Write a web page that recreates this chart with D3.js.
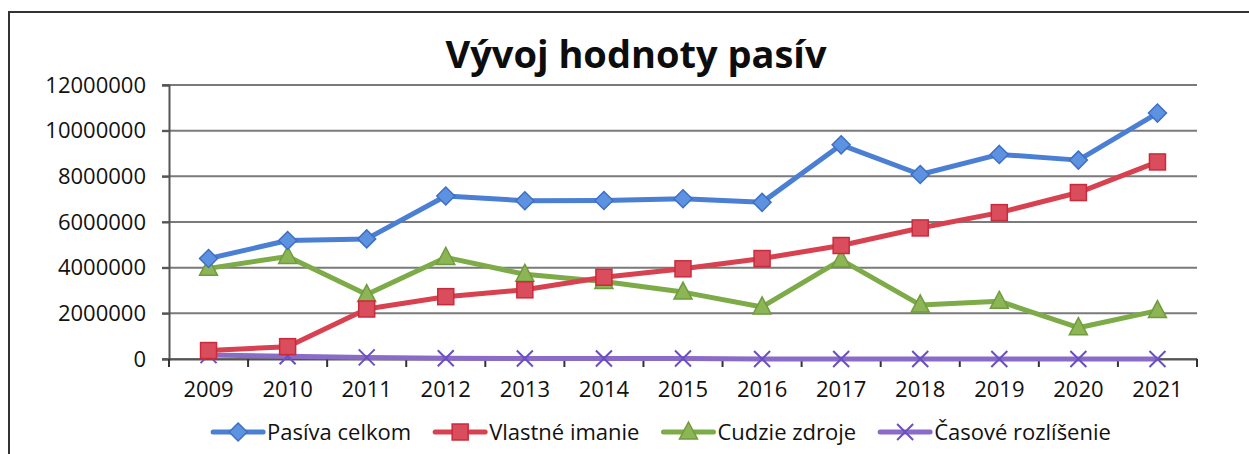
<!DOCTYPE html>
<html>
<head>
<meta charset="utf-8">
<script src="https://cdn.jsdelivr.net/npm/d3@7"></script>
<style>
    body { margin: 0; background: #fff; }
    svg { display: block; font-family: 'Open Sans', sans-serif; }
</style>
</head>
<body>
<svg id="chart" width="1249" height="454"></svg>
<script>
var years = ['2009', '2010', '2011', '2012', '2013', '2014', '2015', '2016', '2017', '2018', '2019', '2020', '2021'];
var yTicks = [0, 2000000, 4000000, 6000000, 8000000, 10000000, 12000000];

var pasivaCelkom = [4400000, 5190000, 5260000, 7140000, 6930000, 6940000, 7020000, 6860000, 9380000, 8080000, 8960000, 8710000, 10770000];
var vlastneImanie = [370000, 540000, 2190000, 2730000, 3030000, 3580000, 3950000, 4400000, 4970000, 5740000, 6410000, 7290000, 8630000];
var cudzieZdroje = [3970000, 4490000, 2820000, 4450000, 3710000, 3390000, 2930000, 2280000, 4340000, 2370000, 2530000, 1370000, 2120000];
var casoveRozlisenie = [170000, 120000, 70000, 30000, 20000, 20000, 20000, 0, 0, 0, 0, 0, 0];

var series = [
    {name: 'Pasíva celkom', values: pasivaCelkom, line: '#4a7fd4', fill: '#5c92e0', stroke: '#3f6fc4', marker: 'diamond'},
    {name: 'Vlastné imanie', values: vlastneImanie, line: '#d8414f', fill: '#d94d5c', stroke: '#c92b3c', marker: 'square'},
    {name: 'Cudzie zdroje', values: cudzieZdroje, line: '#7dab48', fill: '#8db556', stroke: '#6f9c3c', marker: 'triangle'},
    {name: 'Časové rozlíšenie', values: casoveRozlisenie, line: '#8a6cc8', fill: 'none', stroke: '#6a4fc0', marker: 'cross'}
];

var svg = d3.select('#chart');
var margin = {left: 169, right: 52, top: 85, bottom: 95};
var dim = {w: 1249 - margin.left - margin.right, h: 454 - margin.top - margin.bottom};

//outer frame (top and left edges show in the picture)
svg.append('path')
    .attr('d', 'M9,454 V12 H1249')
    .attr('fill', 'none')
    .attr('stroke', '#333')
    .attr('stroke-width', 2);

//title
svg.append('text')
    .attr('x', 636)
    .attr('y', 68)
    .attr('text-anchor', 'middle')
    .style('font-size', '38px')
    .style('font-weight', 'bold')
    .style('fill', '#0d0d0d')
    .text('Vývoj hodnoty pasív');

var g = svg.append('g').attr('transform', 'translate(' + margin.left + ',' + margin.top + ')');

var x = d3.scaleBand().domain(years).range([0, dim.w]);
var y = d3.scaleLinear().domain([0, 12000000]).range([dim.h, 0]);

//gridlines
g.selectAll('.grid')
    .data(yTicks)
    .enter().append('line')
    .attr('x1', -7)
    .attr('x2', dim.w)
    .attr('y1', function (d) { return y(d); })
    .attr('y2', function (d) { return y(d); })
    .attr('stroke', '#7a7a7a')
    .attr('stroke-width', 2);

//y axis
var yAxis = g.append('g')
    .call(d3.axisLeft(y).tickValues(yTicks).tickSize(7).tickPadding(16).tickFormat(d3.format('d')));
yAxis.select('.domain').attr('stroke', '#555').attr('stroke-width', 2);
yAxis.selectAll('.tick line').attr('stroke', '#555').attr('stroke-width', 2);
yAxis.selectAll('text').style('font-size', '22px').style('fill', '#111').style('font-family', "'Open Sans', sans-serif");

//x axis with ticks between categories
var xAxis = g.append('g')
    .attr('transform', 'translate(0,' + dim.h + ')')
    .call(d3.axisBottom(x).tickSize(0).tickPadding(22));
xAxis.select('.domain').attr('stroke', '#555').attr('stroke-width', 2);
xAxis.selectAll('text').style('font-size', '22px').style('fill', '#111').style('font-family', "'Open Sans', sans-serif");
g.selectAll('.xtick')
    .data(d3.range(years.length + 1))
    .enter().append('line')
    .attr('x1', function (i) { return i * x.bandwidth(); })
    .attr('x2', function (i) { return i * x.bandwidth(); })
    .attr('y1', dim.h)
    .attr('y2', dim.h + 8)
    .attr('stroke', '#333')
    .attr('stroke-width', 2);

function cx(i) { return x(years[i]) + x.bandwidth() / 2; }

function drawMarker(sel, s, px, py) {
    if (s.marker === 'diamond') {
        sel.append('path')
            .attr('d', 'M' + px + ',' + (py - 9) + ' L' + (px + 9) + ',' + py + ' L' + px + ',' + (py + 9) + ' L' + (px - 9) + ',' + py + 'Z')
            .attr('fill', s.fill).attr('stroke', s.stroke).attr('stroke-width', 1.5);
    } else if (s.marker === 'square') {
        sel.append('rect')
            .attr('x', px - 8).attr('y', py - 8).attr('width', 16).attr('height', 16)
            .attr('fill', s.fill).attr('stroke', s.stroke).attr('stroke-width', 1.5);
    } else if (s.marker === 'triangle') {
        sel.append('path')
            .attr('d', 'M' + px + ',' + (py - 10) + ' L' + (px + 9) + ',' + (py + 7) + ' L' + (px - 9) + ',' + (py + 7) + 'Z')
            .attr('fill', s.fill).attr('stroke', s.stroke).attr('stroke-width', 1.5);
    } else {
        sel.append('path')
            .attr('d', 'M' + (px - 8) + ',' + (py - 8) + ' L' + (px + 8) + ',' + (py + 8) + ' M' + (px + 8) + ',' + (py - 8) + ' L' + (px - 8) + ',' + (py + 8))
            .attr('fill', 'none').attr('stroke', s.stroke).attr('stroke-width', 2);
    }
}

//lines and markers, last series drawn first
var line = d3.line()
    .x(function (d, i) { return cx(i); })
    .y(function (d) { return y(d); });

series.slice().reverse().forEach(function (s) {
    g.append('path')
        .datum(s.values)
        .attr('d', line)
        .attr('fill', 'none')
        .attr('stroke', s.line)
        .attr('stroke-width', 5)
        .attr('stroke-linejoin', 'round');
    s.values.forEach(function (v, i) {
        drawMarker(g, s, cx(i), y(v));
    });
});

//legend
var legend = svg.append('g');
var lx = 0;
series.forEach(function (s) {
    var item = legend.append('g').attr('transform', 'translate(' + lx + ',0)');
    item.append('line')
        .attr('x1', 2).attr('x2', 52).attr('y1', 0).attr('y2', 0)
        .attr('stroke', s.line).attr('stroke-width', 5).attr('stroke-linecap', 'round');
    drawMarker(item, s, 27, 0);
    var t = item.append('text')
        .attr('x', 56).attr('y', 8)
        .style('font-size', '22px')
        .style('fill', '#111')
        .text(s.name);
    lx += 56 + t.node().getComputedTextLength() + 22;
});
legend.attr('transform', 'translate(' + (661 - (lx - 22) / 2) + ',432)');
</script>
</body>
</html>
